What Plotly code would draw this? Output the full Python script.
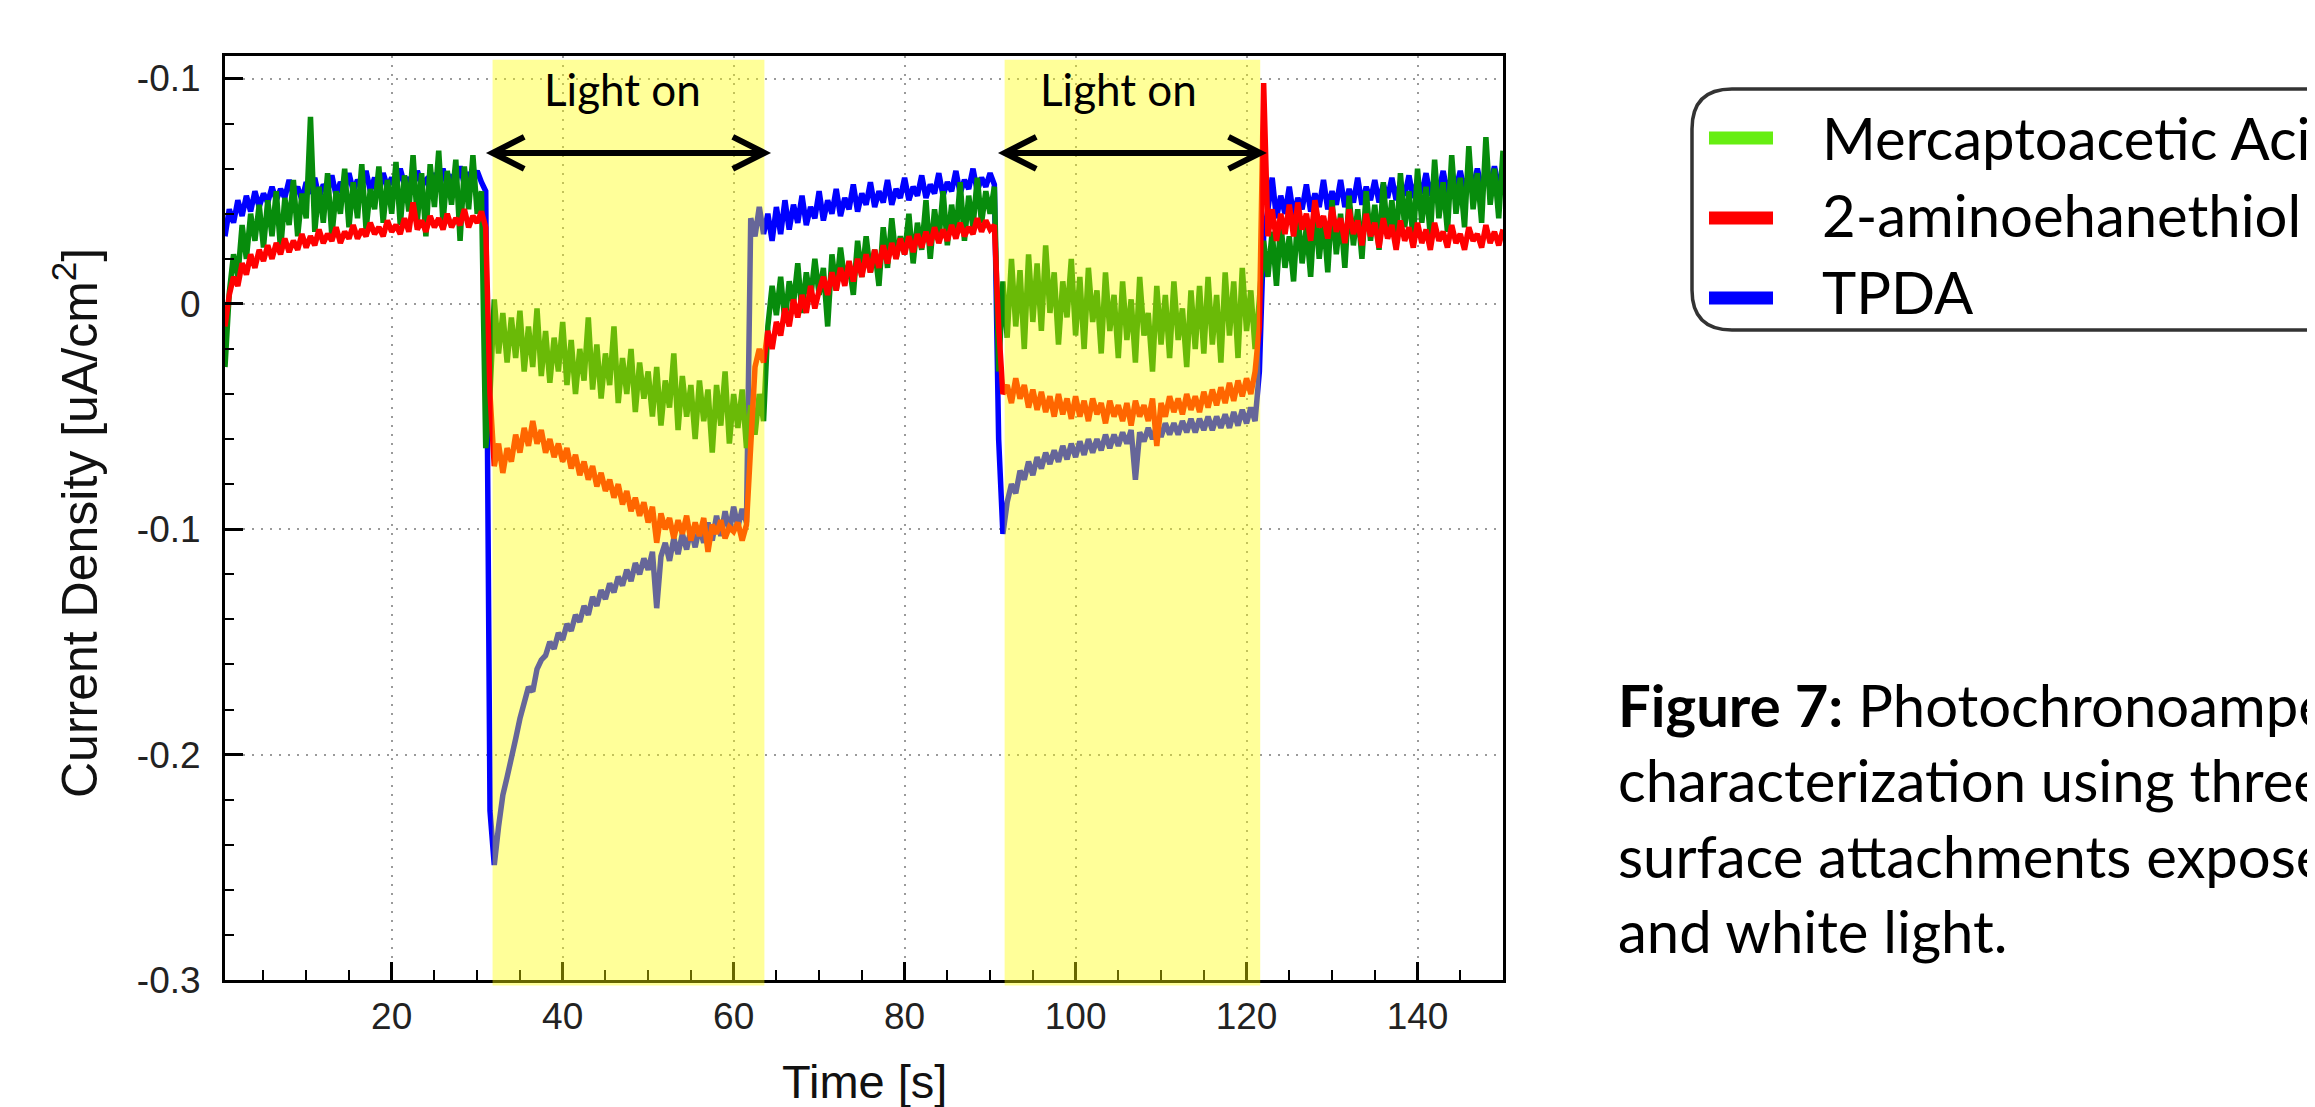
import numpy as np
import plotly.graph_objects as go

# ---------------- data ----------------
time_s = np.round(np.arange(1, 301) * 0.5, 1)  # 0.5 ... 150.0 s sampling grid

tpda = [
    0.030, 0.042, 0.036, 0.046, 0.039, 0.048, 0.041, 0.050, 0.043, 0.049,
    0.045, 0.052, 0.046, 0.051, 0.047, 0.055, 0.048, 0.052, 0.046, 0.054,
    0.049, 0.056, 0.047, 0.053, 0.050, 0.057, 0.048, 0.054, 0.051, 0.058,
    0.050, 0.055, 0.052, 0.059, 0.050, 0.056, 0.049, 0.058, 0.052, 0.056,
    0.051, 0.060, 0.053, 0.056, 0.052, 0.059, 0.053, 0.055, 0.051, 0.058,
    0.053, 0.060, 0.052, 0.056, 0.054, 0.061, 0.053, 0.057, 0.055, 0.059,
    0.054, 0.050, -0.225, -0.249, -0.232, -0.218, -0.210, -0.200, -0.193, -0.184,
    -0.178, -0.170, -0.172, -0.162, -0.158, -0.156, -0.150, -0.153, -0.146, -0.149,
    -0.142, -0.145, -0.138, -0.141, -0.134, -0.138, -0.130, -0.134, -0.127, -0.131,
    -0.124, -0.128, -0.121, -0.125, -0.118, -0.123, -0.115, -0.120, -0.113, -0.118,
    -0.110, -0.135, -0.112, -0.106, -0.114, -0.104, -0.111, -0.102, -0.109, -0.100,
    -0.108, -0.099, -0.106, -0.097, -0.105, -0.094, -0.103, -0.092, -0.101, -0.090,
    -0.099, -0.091, -0.097, 0.038, 0.030, 0.043, 0.031, 0.040, 0.028, 0.043,
    0.031, 0.046, 0.033, 0.044, 0.036, 0.048, 0.035, 0.043, 0.038, 0.050,
    0.037, 0.046, 0.040, 0.051, 0.039, 0.047, 0.042, 0.053, 0.041, 0.049,
    0.044, 0.054, 0.043, 0.050, 0.045, 0.055, 0.044, 0.051, 0.047, 0.056,
    0.046, 0.052, 0.048, 0.057, 0.047, 0.053, 0.049, 0.058, 0.048, 0.054,
    0.050, 0.059, 0.049, 0.055, 0.051, 0.060, 0.050, 0.056, 0.052, 0.058,
    0.053, -0.060, -0.102, -0.088, -0.080, -0.084, -0.074, -0.078, -0.070, -0.076,
    -0.068, -0.073, -0.066, -0.071, -0.065, -0.070, -0.063, -0.069, -0.062, -0.068,
    -0.061, -0.067, -0.060, -0.066, -0.060, -0.065, -0.058, -0.064, -0.058, -0.063,
    -0.057, -0.062, -0.056, -0.078, -0.057, -0.061, -0.055, -0.060, -0.054, -0.059,
    -0.053, -0.058, -0.053, -0.058, -0.052, -0.057, -0.051, -0.057, -0.051, -0.056,
    -0.050, -0.056, -0.050, -0.055, -0.049, -0.055, -0.048, -0.054, -0.047, -0.053,
    -0.046, -0.052, -0.030, 0.030, 0.042, 0.056, 0.038, 0.048, 0.040, 0.052,
    0.039, 0.047, 0.042, 0.053, 0.041, 0.049, 0.043, 0.055, 0.042, 0.050,
    0.044, 0.055, 0.043, 0.051, 0.045, 0.056, 0.044, 0.052, 0.046, 0.055,
    0.045, 0.053, 0.047, 0.056, 0.046, 0.054, 0.048, 0.057, 0.047, 0.055,
    0.049, 0.058, 0.048, 0.056, 0.050, 0.059, 0.049, 0.057, 0.051, 0.059,
    0.050, 0.058, 0.052, 0.060, 0.051, 0.058, 0.053, 0.061, 0.052, 0.059,
]

mercaptoacetic = [
    -0.028, 0.005, 0.022, 0.012, 0.035, 0.020, 0.040, 0.028, 0.044, 0.025,
    0.046, 0.030, 0.050, 0.024, 0.047, 0.035, 0.055, 0.030, 0.049, 0.038,
    0.083, 0.032, 0.052, 0.036, 0.058, 0.030, 0.050, 0.040, 0.060, 0.034,
    0.054, 0.038, 0.062, 0.033, 0.051, 0.042, 0.061, 0.036, 0.055, 0.040,
    0.063, 0.035, 0.057, 0.041, 0.066, 0.037, 0.058, 0.030, 0.062, 0.043,
    0.068, 0.036, 0.059, 0.044, 0.064, 0.028, 0.061, 0.042, 0.066, 0.040,
    0.050, -0.064, -0.040, 0.002, -0.022, -0.004, -0.026, -0.006, -0.024, -0.003,
    -0.030, -0.010, -0.028, -0.002, -0.032, -0.012, -0.035, -0.015, -0.030, -0.008,
    -0.036, -0.016, -0.040, -0.020, -0.034, -0.006, -0.038, -0.018, -0.042, -0.022,
    -0.036, -0.010, -0.044, -0.024, -0.040, -0.020, -0.048, -0.026, -0.042, -0.030,
    -0.050, -0.028, -0.054, -0.034, -0.046, -0.022, -0.056, -0.032, -0.050, -0.036,
    -0.060, -0.034, -0.052, -0.038, -0.066, -0.036, -0.054, -0.030, -0.062, -0.040,
    -0.055, -0.038, -0.064, -0.045, -0.058, -0.040, -0.052, -0.010, 0.008, -0.005,
    0.012, -0.008, 0.010, 0.000, 0.018, -0.004, 0.014, 0.002, 0.020, 0.004,
    0.016, -0.010, 0.022, 0.006, 0.025, 0.010, 0.018, 0.004, 0.028, 0.012,
    0.030, 0.014, 0.024, 0.008, 0.034, 0.016, 0.038, 0.020, 0.030, 0.022,
    0.040, 0.018, 0.036, 0.024, 0.046, 0.020, 0.042, 0.028, 0.050, 0.026,
    0.044, 0.030, 0.054, 0.028, 0.048, 0.034, 0.056, 0.036, 0.050, 0.040,
    0.052, -0.030, 0.010, -0.015, 0.020, -0.010, 0.015, -0.020, 0.022, -0.008,
    0.018, -0.012, 0.026, -0.004, 0.014, -0.018, 0.010, -0.006, 0.020, -0.014,
    0.012, -0.020, 0.016, -0.008, 0.006, -0.022, 0.014, -0.012, 0.004, -0.024,
    0.010, -0.016, 0.002, -0.026, 0.012, -0.014, -0.004, -0.030, 0.008, -0.018,
    0.004, -0.024, 0.010, -0.016, -0.002, -0.028, 0.006, -0.020, 0.008, -0.022,
    0.012, -0.018, 0.004, -0.026, 0.014, -0.014, 0.010, -0.024, 0.016, -0.012,
    0.006, -0.020, 0.002, 0.028, 0.012, 0.032, 0.008, 0.036, 0.016, 0.030,
    0.010, 0.040, 0.018, 0.034, 0.012, 0.044, 0.020, 0.038, 0.014, 0.046,
    0.022, 0.040, 0.016, 0.048, 0.026, 0.042, 0.020, 0.050, 0.028, 0.044,
    0.024, 0.054, 0.030, 0.046, 0.026, 0.058, 0.034, 0.050, 0.028, 0.060,
    0.036, 0.052, 0.030, 0.064, 0.038, 0.054, 0.032, 0.066, 0.040, 0.056,
    0.034, 0.070, 0.042, 0.058, 0.036, 0.074, 0.044, 0.060, 0.038, 0.068,
]

aminoethanethiol = [
    -0.010, 0.004, 0.012, 0.008, 0.018, 0.013, 0.022, 0.016, 0.024, 0.019,
    0.026, 0.020, 0.027, 0.022, 0.029, 0.023, 0.028, 0.024, 0.031, 0.025,
    0.030, 0.026, 0.033, 0.027, 0.031, 0.028, 0.034, 0.027, 0.032, 0.029,
    0.035, 0.029, 0.033, 0.030, 0.036, 0.031, 0.034, 0.030, 0.037, 0.032,
    0.035, 0.031, 0.038, 0.032, 0.045, 0.033, 0.037, 0.032, 0.039, 0.034,
    0.038, 0.033, 0.040, 0.034, 0.038, 0.035, 0.042, 0.034, 0.039, 0.036,
    0.041, 0.034, -0.040, -0.072, -0.062, -0.075, -0.064, -0.070, -0.058, -0.066,
    -0.055, -0.063, -0.052, -0.062, -0.056, -0.066, -0.060, -0.068, -0.062, -0.070,
    -0.064, -0.073, -0.067, -0.076, -0.070, -0.078, -0.072, -0.081, -0.075, -0.083,
    -0.078, -0.086, -0.080, -0.089, -0.083, -0.092, -0.086, -0.094, -0.088, -0.097,
    -0.090, -0.106, -0.093, -0.100, -0.095, -0.104, -0.096, -0.102, -0.094, -0.105,
    -0.097, -0.103, -0.095, -0.110, -0.098, -0.102, -0.096, -0.104, -0.099, -0.101,
    -0.097, -0.105, -0.098, -0.060, -0.028, -0.020, -0.026, -0.012, -0.020, -0.008,
    -0.014, -0.002, -0.010, 0.002, -0.006, 0.004, -0.004, 0.008, -0.002, 0.006,
    0.012, 0.004, 0.014, 0.006, 0.016, 0.008, 0.019, 0.010, 0.020, 0.012,
    0.022, 0.014, 0.024, 0.016, 0.026, 0.018, 0.027, 0.020, 0.029, 0.022,
    0.030, 0.023, 0.031, 0.025, 0.032, 0.026, 0.034, 0.027, 0.033, 0.028,
    0.035, 0.029, 0.036, 0.030, 0.034, 0.031, 0.038, 0.032, 0.037, 0.033,
    0.035, -0.010, -0.040, -0.036, -0.044, -0.033, -0.042, -0.036, -0.046, -0.038,
    -0.047, -0.039, -0.048, -0.041, -0.050, -0.040, -0.049, -0.042, -0.051, -0.041,
    -0.050, -0.043, -0.052, -0.042, -0.049, -0.044, -0.053, -0.043, -0.050, -0.045,
    -0.052, -0.044, -0.054, -0.043, -0.050, -0.045, -0.052, -0.042, -0.063, -0.044,
    -0.050, -0.041, -0.048, -0.042, -0.049, -0.040, -0.047, -0.041, -0.048, -0.039,
    -0.046, -0.038, -0.045, -0.037, -0.044, -0.035, -0.043, -0.034, -0.041, -0.033,
    -0.040, -0.030, -0.010, 0.098, 0.030, 0.042, 0.028, 0.040, 0.031, 0.044,
    0.030, 0.045, 0.033, 0.040, 0.028, 0.046, 0.034, 0.039, 0.029, 0.043,
    0.032, 0.038, 0.027, 0.042, 0.031, 0.037, 0.026, 0.040, 0.030, 0.036,
    0.025, 0.038, 0.029, 0.035, 0.024, 0.037, 0.028, 0.034, 0.025, 0.036,
    0.027, 0.033, 0.024, 0.036, 0.028, 0.032, 0.025, 0.035, 0.027, 0.031,
    0.024, 0.034, 0.028, 0.031, 0.025, 0.035, 0.027, 0.032, 0.026, 0.033,
]

for _name, _arr in [("tpda", tpda), ("mercaptoacetic", mercaptoacetic), ("aminoethanethiol", aminoethanethiol)]:
    if len(_arr) != len(time_s):
        raise ValueError(f"{_name} has {len(_arr)} values, expected {len(time_s)}")

light_on_intervals = [(31.8, 63.6), (91.7, 121.6)]
light_label = "Light on"
light_label_x = [47.0, 105.0]
arrow_y = 0.067

legend_labels = ["Mercaptoacetic Acid", "2-aminoehanethiol", "TPDA"]
legend_colors = ["#66EE11", "#FF0000", "#0000FF"]

x_tickvals = [20, 40, 60, 80, 100, 120, 140]
y_tickvals = [-0.3, -0.2, -0.1, 0.0, 0.1]
y_ticktext = ["-0.3", "-0.2", "-0.1", "0", "-0.1"]

caption = ("<b>Figure 7:</b> Photochronoamperometric<br>"
           "characterization using three different<br>"
           "surface attachments exposed to dark<br>"
           "and white light.")

# ---------------- layout geometry ----------------
W, H = 2315, 1107
ML, MR, MT, MB = 217, 820, 48, 135
PW, PH = W - ML - MR, H - MT - MB


def px_x(px):
    return (px - ML) / PW


def px_y(py):
    return (H - MB - py) / PH


fig = go.Figure()

series = [
    (tpda, "#0000FF", "TPDA"),
    (mercaptoacetic, "#078C0C", "Mercaptoacetic Acid"),
    (aminoethanethiol, "#FF0000", "2-aminoehanethiol"),
]
for vals, col, nm in series:
    fig.add_trace(go.Scatter(x=time_s, y=vals, mode="lines", name=nm,
                             line=dict(color=col, width=5.5), showlegend=False))

shapes = []
# yellow "light on" bands, translucent, drawn over the curves
for x0, x1 in light_on_intervals:
    shapes.append(dict(type="rect", xref="x", yref="paper", x0=x0, x1=x1,
                       y0=-0.006, y1=0.996, fillcolor="rgba(255,255,0,0.40)",
                       line=dict(width=0), layer="above"))

# double-headed arrows
adx, ady = 3.7, 0.0071
for x0, x1 in light_on_intervals:
    shapes.append(dict(type="line", xref="x", yref="y", x0=x0, x1=x1,
                       y0=arrow_y, y1=arrow_y, line=dict(color="black", width=6),
                       layer="above"))
    shapes.append(dict(type="path", xref="x", yref="y", layer="above",
                       path=f"M {x0 + adx},{arrow_y + ady} L {x0},{arrow_y} L {x0 + adx},{arrow_y - ady}",
                       line=dict(color="black", width=6)))
    shapes.append(dict(type="path", xref="x", yref="y", layer="above",
                       path=f"M {x1 - adx},{arrow_y + ady} L {x1},{arrow_y} L {x1 - adx},{arrow_y - ady}",
                       line=dict(color="black", width=6)))

# legend box (rounded, runs off the right edge)
bl, bt, bb, br, rad = 1684, 81, 322, 2500, 40
path = (f"M {px_x(br)},{px_y(bt)} L {px_x(bl + rad)},{px_y(bt)} "
        f"Q {px_x(bl)},{px_y(bt)} {px_x(bl)},{px_y(bt + rad)} "
        f"L {px_x(bl)},{px_y(bb - rad)} "
        f"Q {px_x(bl)},{px_y(bb)} {px_x(bl + rad)},{px_y(bb)} "
        f"L {px_x(br)},{px_y(bb)}")
shapes.append(dict(type="path", xref="paper", yref="paper", path=path,
                   line=dict(color="#333333", width=3.5)))

legend_rows_py = [130, 210, 290]
legend_text_py = [129, 207, 283]
for py, col in zip(legend_rows_py, legend_colors):
    shapes.append(dict(type="line", xref="paper", yref="paper",
                       x0=px_x(1701), x1=px_x(1765), y0=px_y(py), y1=px_y(py),
                       line=dict(color=col, width=13)))

annotations = []
for lx in light_label_x:
    annotations.append(dict(x=lx, y=0.0955, xref="x", yref="y", text=light_label,
                            showarrow=False, xanchor="center", yanchor="middle",
                            font=dict(family="Lato", size=44, color="black")))

for py, lab in zip(legend_text_py, legend_labels):
    annotations.append(dict(x=px_x(1812), y=px_y(py), xref="paper", yref="paper",
                            text=lab, showarrow=False, xanchor="left", yanchor="middle",
                            font=dict(family="Lato", size=58, color="black")))

annotations.append(dict(x=px_x(1608), y=px_y(809), xref="paper", yref="paper",
                        text=caption, showarrow=False, xanchor="left", yanchor="middle",
                        align="left", font=dict(family="Lato", size=58, color="black")))

annotations.append(dict(x=0.5, y=px_y(1073), xref="paper", yref="paper",
                        text="Time [s]", showarrow=False, xanchor="center", yanchor="middle",
                        font=dict(family="Liberation Sans", size=47, color="#111111")))
annotations.append(dict(x=px_x(68), y=px_y(515), xref="paper", yref="paper",
                        text="Current Density [uA/cm<sup>2</sup>]", showarrow=False,
                        textangle=-90, xanchor="center", yanchor="middle",
                        font=dict(family="Liberation Sans", size=50, color="#111111")))

axis_common = dict(showline=True, linecolor="black", linewidth=3, mirror=True,
                   ticks="inside", ticklen=18, tickwidth=3, tickcolor="black",
                   showgrid=True, gridcolor="#9a9a9a", gridwidth=2, griddash="2px,7px",
                   zeroline=False,
                   tickfont=dict(family="Liberation Sans", size=37, color="#222222"))

fig.update_xaxes(range=[0.5, 150], tickmode="array", tickvals=x_tickvals,
                 ticklabelstandoff=2,
                 minor=dict(dtick=5, tick0=0, ticks="inside", ticklen=10, tickwidth=2,
                            tickcolor="black", showgrid=False),
                 **axis_common)
fig.update_yaxes(range=[-0.3, 0.11], tickmode="array", tickvals=y_tickvals,
                 ticktext=y_ticktext, ticklabelstandoff=14,
                 minor=dict(dtick=0.02, tick0=0, ticks="inside", ticklen=9, tickwidth=2,
                            tickcolor="black", showgrid=False),
                 **axis_common)

fig.update_layout(width=W, height=H, margin=dict(l=ML, r=MR, t=MT, b=MB),
                  paper_bgcolor="white", plot_bgcolor="white",
                  shapes=shapes, annotations=annotations, showlegend=False)

fig.write_html("out.html")
